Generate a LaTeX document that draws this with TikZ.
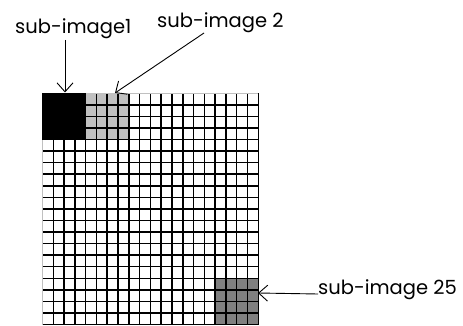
\documentclass[tikz,border=0pt]{standalone}
\usepackage{fontspec}
\setmainfont{Poppins}
\usetikzlibrary{arrows.meta}
\definecolor{lgray}{RGB}{192,192,192}
\definecolor{dgray}{RGB}{128,128,128}
\begin{document}
\begin{tikzpicture}[x=1pt,y=-1pt,
  lbl/.style={font=\fontsize{19.5}{19.5}\selectfont, inner sep=0pt, anchor=base west},
  ptr/.style={line width=0.9pt, -{Straight Barb[length=9pt,width=16pt,line width=0.9pt]}},
  gridline/.style={line width=1.5pt, black},
  edgeline/.style={line width=1.5pt, lgray}]
\useasboundingbox (0,0) rectangle (463,326);
\def\gx{42.5}\def\gy{93.3}\def\cw{10.79}\def\ch{11.56}
% blocks
\fill[lgray] (\gx+4*\cw,\gy) rectangle (\gx+8*\cw,\gy+4*\ch);
\fill[dgray] (\gx+16*\cw,\gy+16*\ch) rectangle (\gx+20*\cw,\gy+20*\ch);
% grid lines
\foreach \i in {1,...,20} {
  \draw[gridline] (\gx+\i*\cw,\gy) -- (\gx+\i*\cw,\gy+20*\ch);
  \draw[gridline] (\gx,\gy+\i*\ch) -- (\gx+20*\cw,\gy+\i*\ch);
}
\draw[edgeline] (\gx,\gy+20*\ch) -- (\gx,\gy) -- (\gx+20*\cw,\gy);
% black block
\fill[black] (\gx-0.75,\gy-0.75) rectangle (\gx+4*\cw,\gy+4*\ch);
% labels
\node[lbl] (l1) at (15,34) {sub-image1};
\node[lbl] (l2) at (157,27.5) {sub-image 2};
\node[lbl] (l3) at (318,294) {sub-image 25};
% arrow targets
\coordinate (t1) at (65,92.5);
\coordinate (t2) at (115,93);
\coordinate (t3) at (258,293);
\coordinate (s1) at (65,40);
\coordinate (s2) at (204,33);
\draw[ptr] (s1) -- (t1);
\draw[ptr] (s2) -- (t2);
\draw[ptr] (l3.base west) -- (t3);
\end{tikzpicture}
\end{document}
